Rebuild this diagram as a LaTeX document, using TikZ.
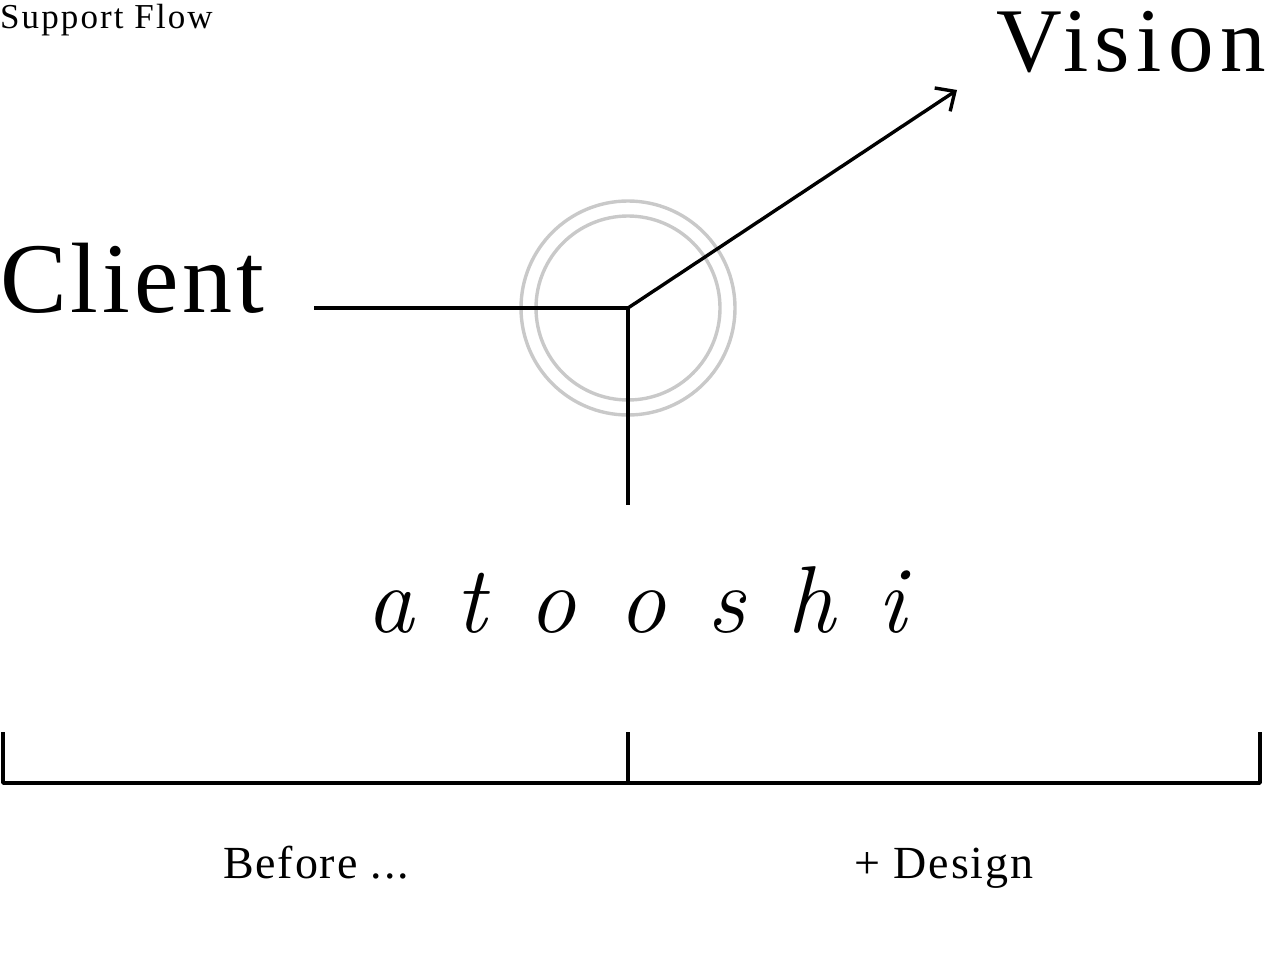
\documentclass[tikz,border=0pt]{standalone}
\usepackage{fontspec}
\setmainfont{Liberation Serif}
\newfontfamily\logofont{Latin Modern Roman}
\usetikzlibrary{arrows.meta}
\newcommand{\gap}{\kern42pt}
\begin{document}
\begin{tikzpicture}[x=1pt,y=-1pt,line join=round,line cap=butt,>={Straight Barb[length=15pt,width=28pt,line width=3.4pt]}]
	\tikzset{word/.style={inner sep=0pt,anchor=base},
		ring/.style={draw=black!21,line width=3.4pt},
		stroke/.style={line width=3.4pt}}
	\useasboundingbox (0,0) rectangle (1284,964);
	% texts
	\node[word,anchor=base west] (title) at (0,28) {\fontsize{35}{38}\selectfont\addfontfeature{LetterSpace=6}Support Flow};
	\node[word,anchor=base east] (vision) at (1266,71) {\fontsize{91}{96}\selectfont\addfontfeature{LetterSpace=7}Vision};
	\node[word,anchor=base west] (client) at (0,312) {\fontsize{100}{106}\selectfont\addfontfeature{LetterSpace=4}Client};
	\node[word] (atooshi) at (636,632) {\logofont\itshape\fontsize{95}{100}\selectfont a\gap t\gap o\gap o\gap s\gap h\gap i};
	\node[word] (before) at (316,878) {\fontsize{46}{50}\selectfont\addfontfeature{LetterSpace=4}Before ...};
	\node[word] (design) at (944,878) {\fontsize{46}{50}\selectfont\addfontfeature{LetterSpace=4}+ Design};
	% hub
	\coordinate (hub) at (628,308);
	\coordinate (in) at (314,308);
	\coordinate (down) at (628,505);
	\coordinate (tip) at (957,90);
	\draw[ring] (hub) circle (107);
	\draw[ring] (hub) circle (92);
	\draw[stroke] (in) -- (hub) -- (down);
	\draw[stroke,->] (hub) -- (tip);
	% bracket
	\coordinate (bl) at (3,732);
	\coordinate (bm) at (628,732);
	\coordinate (br) at (1260,732);
	\draw[stroke] (bl) -- ++(0,51) -| (br);
	\draw[stroke] (bm) -- ++(0,51);
\end{tikzpicture}
\end{document}
